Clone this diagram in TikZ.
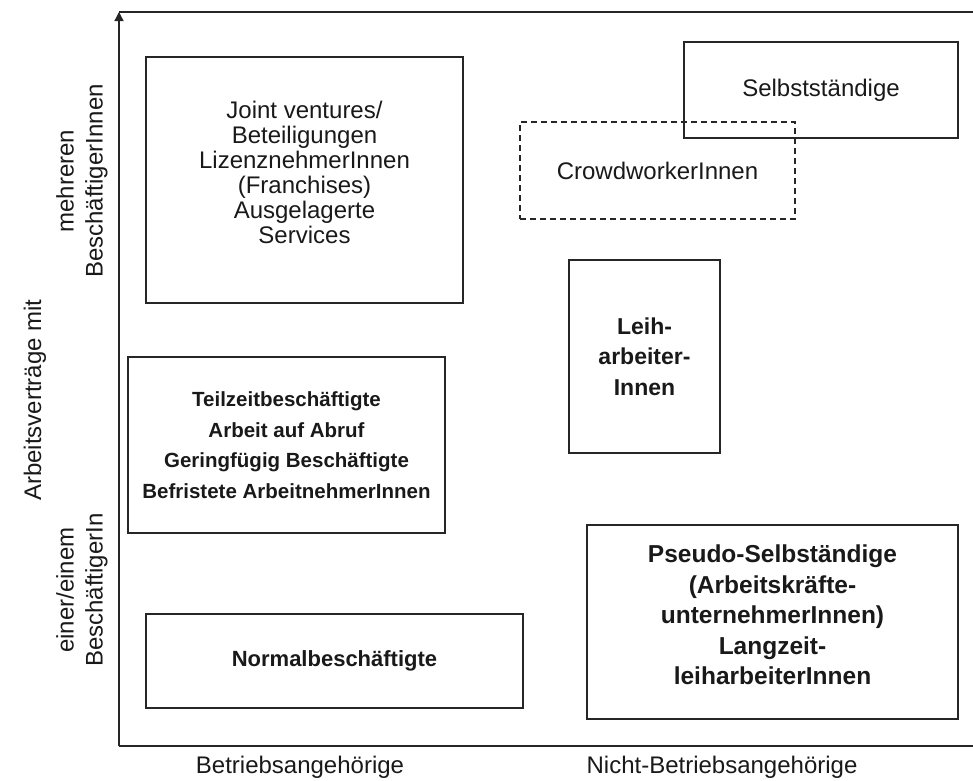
\documentclass[tikz,border=0pt]{standalone}
\usepackage{fontspec}
\setmainfont{Liberation Sans}
\usetikzlibrary{arrows.meta}
\begin{document}
\begin{tikzpicture}[x=1pt,y=-1pt,
  box/.style={draw=black!85, line width=1.1pt, inner sep=0pt, align=center, text=black!90},
  txt/.style={inner sep=0pt, align=center, text=black!90},
  reg/.style={font=\fontsize{24}{25}\selectfont},
  bld/.style={font=\fontsize{23}{30.5}\selectfont\bfseries},
  lab/.style={txt, font=\fontsize{24}{29}\selectfont},
  axis/.style={draw=black!85, line width=1.3pt}]
\useasboundingbox (0,0) rectangle (973,780);
% axes
\coordinate (o) at (119,746);
\coordinate (ytop) at (119,12);
\coordinate (tr) at (973,12);
\coordinate (br) at (973,746);
\draw[axis, -{Triangle[length=9pt,width=9pt]}] (o) -- (ytop);
\draw[axis] (ytop) -- (tr);
\draw[axis] (o) -- (br);
% boxes
\node[box, minimum width=317pt, minimum height=246pt] (jv) at (304.5,180) {};
\node[txt, reg] (jvt) at ([yshift=8pt]jv.center)
  {Joint ventures/\\Beteiligungen\\LizenznehmerInnen\\(Franchises)\\Ausgelagerte\\Services};
\node[box, reg, minimum width=274pt, minimum height=96pt] (selb) at (821,90) {Selbstständige};
\node[box, reg, dashed, dash pattern=on 6pt off 4pt, minimum width=275pt, minimum height=97pt] (crowd) at (657.5,170.5) {CrowdworkerInnen};
\node[box, bld, minimum width=151pt, minimum height=193pt] (leih) at (644.5,356.5) {Leih-\\arbeiter-\\Innen};
\node[box, minimum width=317pt, minimum height=176pt, font=\fontsize{20.5}{30.5}\selectfont\bfseries] (teil) at (286.5,445)
  {Teilzeitbeschäftigte\\Arbeit auf Abruf\\Geringfügig Beschäftigte\\Befristete ArbeitnehmerInnen};
\node[box, minimum width=371pt, minimum height=194pt] (pseudo) at (772.5,622) {};
\node[txt, font=\fontsize{24.5}{30.5}\selectfont\bfseries] (pseudot) at ([yshift=7pt]pseudo.center)
  {Pseudo-Selbständige\\(Arbeitskräfte-\\unternehmerInnen)\\Langzeit-\\leiharbeiterInnen};
\node[box, font=\fontsize{22}{30}\selectfont\bfseries, minimum width=377pt, minimum height=94pt] (normal) at (334.5,661) {Normalbeschäftigte};
% axis labels
\node[lab, rotate=90] (ylab) at (35,400) {Arbeitsverträge mit};
\node[lab, rotate=90] (ymany) at (82,181) {mehreren\\BeschäftigerInnen};
\node[lab, rotate=90] (yone) at (82,590) {einer/einem\\BeschäftigerIn};
\node[lab] (xin) at (300,767) {Betriebsangehörige};
\node[lab] (xout) at (722,767) {Nicht-Betriebsangehörige};
\end{tikzpicture}
\end{document}
